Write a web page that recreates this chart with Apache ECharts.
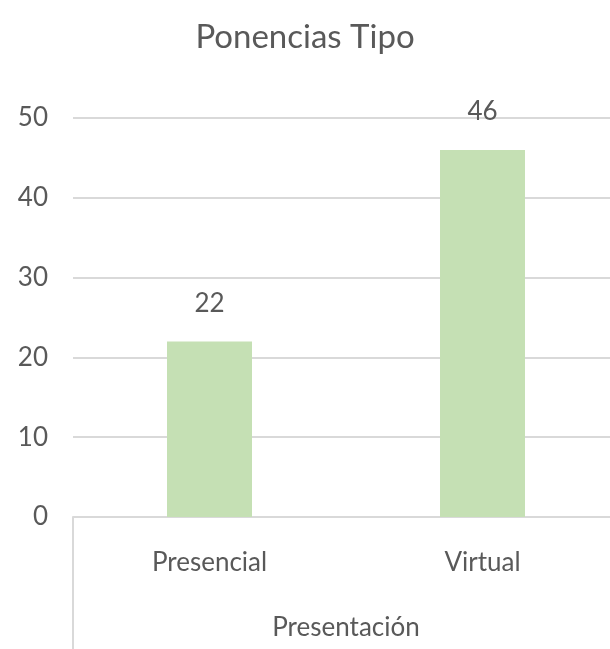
<!DOCTYPE html>
<html>
<head>
<meta charset="utf-8">
<script src="https://cdn.jsdelivr.net/npm/echarts@6/dist/echarts.min.js"></script>
<style>
html,body{margin:0;padding:0;background:#fff;overflow:hidden;width:610px;height:649px;}
#chart{width:630px;height:649px;margin-left:-10px;}
</style>
</head>
<body>
<div id="chart"></div>
<script>
const titleText = "Ponencias Tipo";
const categories = ["Presencial", "Virtual"];
const values = [22, 46];
const axisName = "Presentación";
const yTicks = { min: 0, max: 50, interval: 10 };

const FONT = "Lato, 'DejaVu Sans Condensed', sans-serif";
const TXT = "#595959";
const GRID = "#d9d9d9";

const chart = echarts.init(document.getElementById('chart'), null, { renderer: 'canvas' });
chart.setOption({
  animation: false,
  backgroundColor: '#ffffff',
  title: {
    text: titleText,
    left: 'center',
    top: 16,
    textStyle: { fontFamily: FONT, fontSize: 33, fontWeight: 'normal', color: TXT }
  },
  grid: { left: 83, top: 118, right: 1, height: 399, containLabel: false },
  xAxis: {
    type: 'category',
    data: categories,
    boundaryGap: true,
    name: axisName,
    nameLocation: 'middle',
    nameGap: 98,
    nameTextStyle: { fontFamily: FONT, fontSize: 26, color: TXT, verticalAlign: 'top' },
    axisLine: { show: true, lineStyle: { color: GRID, width: 2 } },
    axisTick: {
      show: true,
      length: 140,
      interval: function (i) { return i === 0; },
      lineStyle: { color: GRID, width: 2 }
    },
    axisLabel: { margin: 33, fontFamily: FONT, fontSize: 26, color: TXT }
  },
  yAxis: {
    type: 'value',
    min: yTicks.min,
    max: yTicks.max,
    interval: yTicks.interval,
    axisLine: { show: false },
    axisTick: { show: false },
    axisLabel: { margin: 25, fontFamily: FONT, fontSize: 26, color: TXT },
    splitLine: { show: true, lineStyle: { color: GRID, width: 2 } }
  },
  series: [{
    type: 'bar',
    data: values,
    barWidth: 85,
    itemStyle: { color: '#c5e0b4' },
    label: {
      show: true,
      position: 'top',
      distance: 25,
      fontFamily: FONT,
      fontSize: 26,
      color: TXT
    }
  }]
});
</script>
</body>
</html>
